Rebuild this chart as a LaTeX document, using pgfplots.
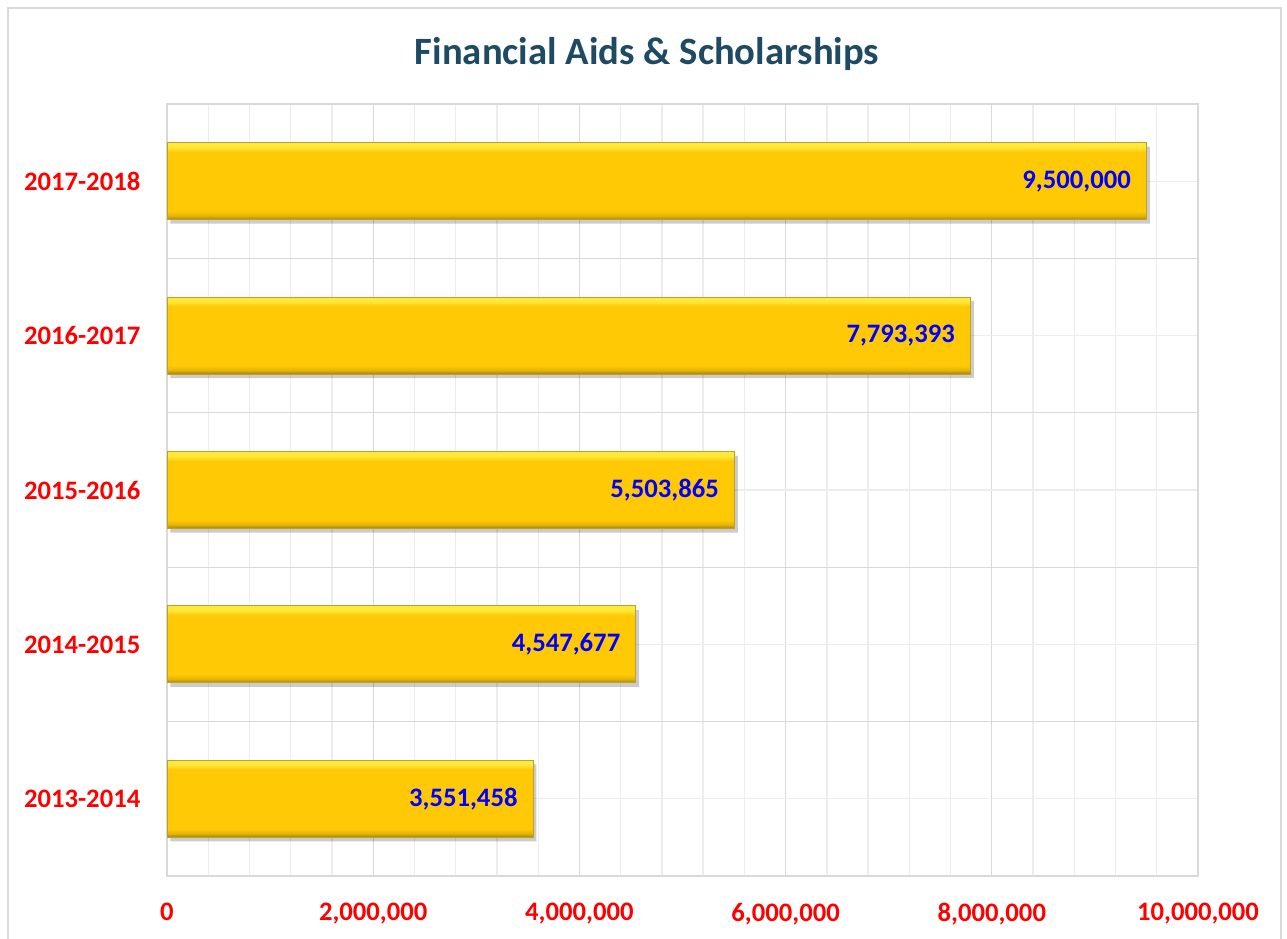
\documentclass[border=0pt]{standalone}
\usepackage{pgfplots}
\pgfplotsset{compat=1.18}
\usepackage{fontspec}
\setmainfont{Carlito}
\definecolor{titleblue}{HTML}{1F4A63}
\definecolor{gridmajor}{HTML}{D9D9D9}
\definecolor{gridminor}{HTML}{EDEDED}
\definecolor{barmain}{HTML}{FFC905}
\definecolor{barlight}{HTML}{FFE83A}
\definecolor{bardark}{HTML}{A0820C}
\definecolor{baredge}{HTML}{BFA12A}
\pgfdeclareverticalshading{bevel}{100bp}{color(0bp)=(bardark); color(25bp)=(bardark); color(27.5bp)=(barmain!70!bardark); color(30.5bp)=(barmain); color(69bp)=(barmain); color(72bp)=(barlight); color(75bp)=(barlight); color(100bp)=(barlight)}
\pgfplotstableread{
y x
0 3551458
1 4547677
2 5503865
3 7793393
4 9500000
}\datatable
\pgfplotsset{
  mybar/.style={xbar, bar shift=0pt, bar width=57.75pt, draw=baredge, line width=0.8pt, shading=bevel,
    nodes near coords={\pgfmathprintnumber[fixed, precision=0, 1000 sep={,}, assume math mode=true]{\pgfplotspointmeta}},
    every node near coord/.append style={anchor=east, text=blue, font=\bfseries\fontsize{20}{24}\selectfont, xshift=-8pt},
    point meta=x},
}
\begin{document}
\begin{tikzpicture}
\path[use as bounding box, fill=white] (0,0) rectangle (1287*0.75pt,-938*0.75pt);
\draw[gridmajor, line width=1.2pt] (8*0.75pt,-8*0.75pt) rectangle (1281*0.75pt,-960*0.75pt);
\node[anchor=base, font=\bfseries\fontsize{29}{34}\selectfont, text=titleblue] at (647*0.75pt,-65*0.75pt) {Financial Aids \& Scholarships};
\begin{axis}[
  at={(167*0.75pt,-876*0.75pt)}, anchor=south west,
  scale only axis, width=1031*0.75pt, height=772*0.75pt,
  xmin=0, xmax=10000000, ymin=-0.5, ymax=4.5,
  xtick={0,2000000,4000000,6000000,8000000,10000000},
  minor x tick num=4,
  ytick={0,1,2,3,4},
  yticklabels={2013-2014,2014-2015,2015-2016,2016-2017,2017-2018},
  minor ytick={-0.5,0.5,1.5,2.5,3.5,4.5},
  grid=both,
  major x grid style={gridmajor, line width=1pt},
  minor x grid style={gridminor, line width=1pt},
  major y grid style={gridminor, line width=1pt},
  minor y grid style={gridmajor, line width=1pt},
  major tick length=0pt, minor tick length=0pt,
  axis line style={gridmajor, line width=1pt},
  scaled x ticks=false,
  tick label style={font=\bfseries\fontsize{20}{24}\selectfont, text=red},
  xticklabel style={/pgf/number format/.cd, fixed, 1000 sep={,}, assume math mode=true, /tikz/.cd, yshift=-17pt},
  yticklabel style={xshift=-16.5pt},
]
\addplot[xbar, bar shift=0pt, bar width=57.75pt, forget plot, draw=none, fill=black, fill opacity=0.2, xshift=2.5pt, yshift=-3pt] table[x=x, y=y] {\datatable};
\addplot[mybar] coordinates {(3551458,0)};
\addplot[mybar] coordinates {(4547677,1)};
\addplot[mybar] coordinates {(5503865,2)};
\addplot[mybar] coordinates {(7793393,3)};
\addplot[mybar] coordinates {(9500000,4)};
\end{axis}
\end{tikzpicture}
\end{document}
